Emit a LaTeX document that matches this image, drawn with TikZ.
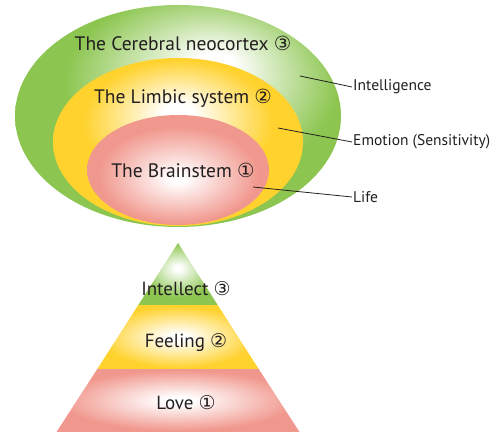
\documentclass[tikz,border=0pt]{standalone}
\usepackage{fontspec}
\setmainfont{PT Sans}
\newfontfamily\ringfont{DejaVu Sans}
\usepackage{tikz}
\usetikzlibrary{positioning}
\definecolor{brainink}{RGB}{35,31,32}
\definecolor{cortexgreen}{RGB}{140,198,80}
\definecolor{limbicyellow}{RGB}{255,210,46}
\definecolor{stemred}{RGB}{241,152,142}
\newcommand{\ring}[1]{{\ringfont #1}}

\pgfdeclareradialshading{cortexshade}{\pgfpoint{6bp}{12bp}}{color(0bp)=(white); color(3bp)=(white); color(21bp)=(cortexgreen); color(50bp)=(cortexgreen)}
\pgfdeclareradialshading{limbicshade}{\pgfpoint{0bp}{9bp}}{color(0bp)=(white); color(3bp)=(white); color(19bp)=(limbicyellow); color(50bp)=(limbicyellow)}
\pgfdeclareradialshading{stemshade}{\pgfpoint{0bp}{-4bp}}{color(0bp)=(white); color(2bp)=(white); color(22bp)=(stemred); color(50bp)=(stemred)}
\pgfdeclareradialshading{tiershadeg}{\pgfpoint{0bp}{5bp}}{color(0bp)=(white); color(2bp)=(white); color(22bp)=(cortexgreen); color(50bp)=(cortexgreen)}
\pgfdeclareradialshading{tiershadey}{\pgfpoint{0bp}{0bp}}{color(0bp)=(white); color(3bp)=(white); color(24bp)=(limbicyellow); color(50bp)=(limbicyellow)}
\pgfdeclareradialshading{tiershader}{\pgfpoint{0bp}{0bp}}{color(0bp)=(white); color(3bp)=(white); color(24bp)=(stemred); color(50bp)=(stemred)}

\begin{document}
\begin{tikzpicture}[
    x=1pt, y=1pt,
    part/.style={font=\fontsize{19.5}{23}\selectfont, text=brainink},
    side/.style={font=\fontsize{15.5}{18}\selectfont, text=brainink, anchor=west, inner sep=1pt},
    tier/.style={font=\fontsize{19}{22}\selectfont, text=brainink},
    leader/.style={draw=brainink, line width=0.8pt}
]
    \useasboundingbox (0,0) rectangle (496,435);

    % Brain shells
    \shade[shading=cortexshade] (178,319) ellipse [x radius=163, y radius=111];
    \shade[shading=limbicshade] (178,293) ellipse [x radius=125, y radius=84];
    \shade[shading=stemshade] (178,265) ellipse [x radius=91, y radius=55];

    % Pyramid tiers
    \shade[shading=tiershader] (56.5,3) -- (299.5,3) -- (258.7,66) -- (97.3,66) -- cycle;
    \shade[shading=tiershadey] (97.3,66) -- (258.7,66) -- (217.7,130) -- (138.3,130) -- cycle;
    \shade[shading=tiershadeg] (138.3,130) -- (217.7,130) -- (178,192) -- cycle;

    % Nodes
    \node[part] (cortex) at (183,392) {The Cerebral neocortex \ring{③}};
    \node[part] (limbic) at (183,337) {The Limbic system \ring{②}};
    \node[part] (stem) at (183,265) {The Brainstem \ring{①}};

    \node[side] (intel) at (352,348) {Intelligence};
    \node[side] (emotion) at (352,293) {Emotion (Sensitivity)};
    \node[side] (life) at (352,238) {Life};

    \node[tier] (intellect) at (186,146) {Intellect \ring{③}};
    \node[tier] (feeling) at (186,92) {Feeling \ring{②}};
    \node[tier] (love) at (186,32) {Love \ring{①}};

    % Leaders
    \coordinate (cortexpin) at (300,359);
    \coordinate (limbicpin) at (278,307);
    \coordinate (stempin) at (253,248);
    \draw[leader] (cortexpin) -- (intel.west);
    \draw[leader] (limbicpin) -- (emotion.west);
    \draw[leader] (stempin) -- (life.west);
\end{tikzpicture}
\end{document}
